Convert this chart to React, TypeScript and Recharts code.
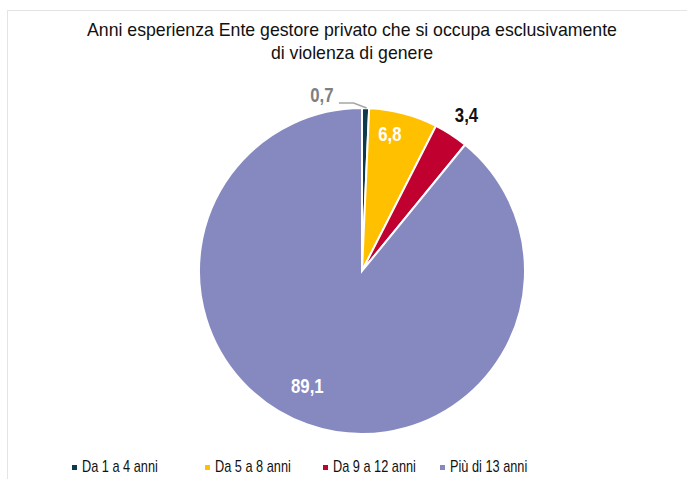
import { PieChart, Pie, Cell, Legend } from 'recharts';

const categories = ['Da 1 a 4 anni', 'Da 5 a 8 anni', 'Da 9 a 12 anni', 'Più di 13 anni'];
const values = [0.7, 6.8, 3.4, 89.1];
const colors = ['#0e3a4e', '#ffc000', '#c0002f', '#8589bf'];

const title = [
  'Anni esperienza Ente gestore privato che si occupa esclusivamente',
  'di violenza di genere',
];

const FONT = '"Liberation Sans", Arial, sans-serif';
const RAD = Math.PI / 180;

const data = categories.map((name, i) => ({ name, value: values[i] }));

// label styling per slice: radius factor, colour, nudge
const labelCfg = [
  { r: 1.08, fill: '#7f7f7f', dx: -44, dy: 0 },
  { r: 0.84, fill: '#ffffff', dx: -7, dy: -5 },
  { r: 1.14, fill: '#111111', dx: 3, dy: 0 },
  { r: 0.78, fill: '#ffffff', dx: -12, dy: -5 },
];

const fmt = (v: number) => v.toFixed(1).replace('.', ',');

function renderLabel(props: any) {
  const { cx, cy, midAngle, outerRadius, index, value } = props;
  const c = labelCfg[index];
  const ang = -midAngle * RAD;
  const x = cx + outerRadius * c.r * Math.cos(ang) + c.dx;
  const y = cy + outerRadius * c.r * Math.sin(ang) + c.dy;
  const text = (
    <text
      transform={`translate(${x},${y}) scale(0.84,1)`}
      x={0}
      y={0}
      fill={c.fill}
      fontFamily={FONT}
      fontWeight="bold"
      fontSize={20}
      textAnchor="middle"
      dominantBaseline="central"
    >
      {fmt(value)}
    </text>
  );
  if (index === 0) {
    const sx = cx + outerRadius * Math.cos(ang);
    const sy = cy + outerRadius * Math.sin(ang);
    return (
      <g>
        <path
          d={`M${sx + 1},${sy} L${sx - 12},${sy - 5} L${x + 17},${sy - 5}`}
          stroke="#a6a6a6"
          strokeWidth={1.5}
          fill="none"
        />
        {text}
      </g>
    );
  }
  return text;
}

const legendX = [72, 205, 323, 440];

function renderLegend() {
  return (
    <div style={{ position: 'relative', height: 22, fontFamily: FONT, fontSize: 17, color: '#111' }}>
      {categories.map((c, i) => (
        <div
          key={c}
          style={{ position: 'absolute', left: legendX[i], top: 0, display: 'flex', alignItems: 'center', whiteSpace: 'nowrap' }}
        >
          <span style={{ width: 5, height: 5, background: colors[i], marginRight: 5, display: 'inline-block' }} />
          <span style={{ display: 'inline-block', transform: 'scaleX(0.75)', transformOrigin: 'left center' }}>{c}</span>
        </div>
      ))}
    </div>
  );
}

export default function App() {
  return (
    <div style={{ position: 'absolute', left: 0, top: 0, width: 687, height: 479, background: '#fff', overflow: 'hidden' }}>
      <div
        style={{
          position: 'absolute',
          left: 7,
          top: 10,
          width: 700,
          height: 480,
          borderLeft: '1px solid #e4e4e4',
          borderTop: '1px solid #e4e4e4',
        }}
      />
      <div
        style={{
          position: 'absolute',
          left: 0,
          width: 704,
          top: 19,
          textAlign: 'center',
          fontFamily: FONT,
          fontSize: 17.7,
          lineHeight: '23px',
          color: '#111',
        }}
      >
        {title.map((t) => (
          <div key={t}>{t}</div>
        ))}
      </div>
      <PieChart
        width={687}
        height={479}
        margin={{ top: 0, right: 0, bottom: 0, left: 0 }}
        style={{ position: 'absolute', left: 0, top: 0 }}
      >
        <Pie
          data={data}
          dataKey="value"
          nameKey="name"
          cx={362}
          cy={271}
          outerRadius={163}
          startAngle={90}
          endAngle={-270}
          stroke="#ffffff"
          strokeWidth={2}
          label={renderLabel}
          labelLine={false}
          isAnimationActive={false}
        >
          {data.map((d, i) => (
            <Cell key={d.name} fill={colors[i]} />
          ))}
        </Pie>
        <Legend
          content={renderLegend}
          verticalAlign="bottom"
          wrapperStyle={{ left: 0, width: 687, bottom: 0 }}
        />
      </PieChart>
    </div>
  );
}
